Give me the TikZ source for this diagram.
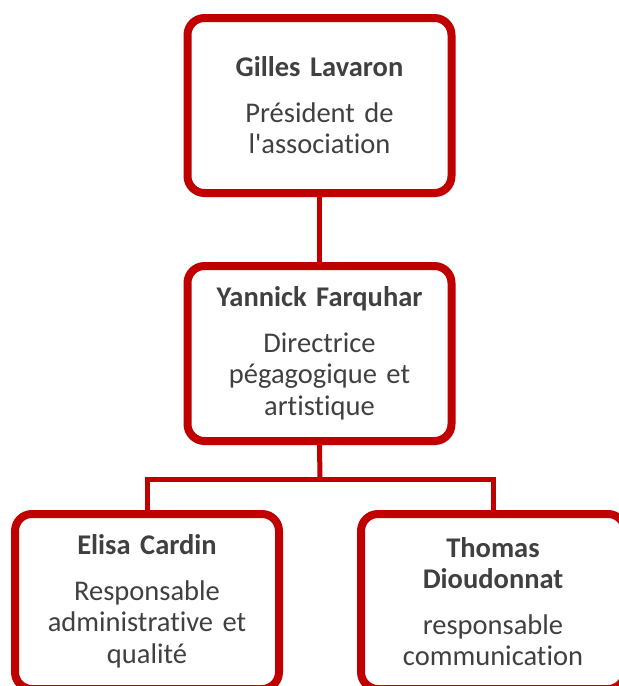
\documentclass[tikz,border=0pt]{standalone}
\usepackage{fontspec}
\setmainfont{Carlito}[Ligatures=NoCommon, WordSpace=0.8]
\usetikzlibrary{shadows.blur}
\definecolor{rouge}{HTML}{C00000}
\definecolor{texte}{HTML}{404040}
\begin{document}
\begin{tikzpicture}[x=1pt, y=-1pt, line join=round, line cap=round,
	poste/.style={draw=rouge, line width=8pt, fill=white, rounded corners=17pt,
		minimum width=264pt, minimum height=175pt, text width=256pt, align=center,
		text=texte, font=\fontsize{28.5}{31.5}\selectfont,
		blur shadow={shadow xshift=2pt, shadow yshift=-3pt, shadow blur steps=6, shadow opacity=35}},
	lien/.style={draw=rouge, line width=5pt, line cap=butt}]
	\useasboundingbox (0,0) rectangle (619,686);
	\def\gap{14pt} % espace nom / fonction
	\node[poste] (pres) at (319.5,105.5) {\textbf{Gilles Lavaron}\\[\gap] Président de\\ l\textquotesingle association};
	\node[poste] (dir) at (319.5,353.5) {\textbf{Yannick Farquhar}\\[\gap] Directrice\\ pégagogique et\\ artistique};
	\node[poste] (admin) at (147,601.5) {\textbf{Elisa Cardin}\\[\gap] Responsable\\ administrative et\\ qualité};
	\node[poste] (comm) at (493,601.5) {\textbf{Thomas}\\ \textbf{Dioudonnat}\\[\gap] responsable\\ communication};
	% liaisons
	\coordinate (bar) at (320,479);
	\begin{scope}[on background layer/.try]
	\draw[lien] (pres.south) -- (dir.north);
	\draw[lien] (dir.south) -- (bar);
	\draw[lien, line join=miter] (admin.north) |- (bar) -| (comm.north);
	\end{scope}
\end{tikzpicture}
\end{document}
